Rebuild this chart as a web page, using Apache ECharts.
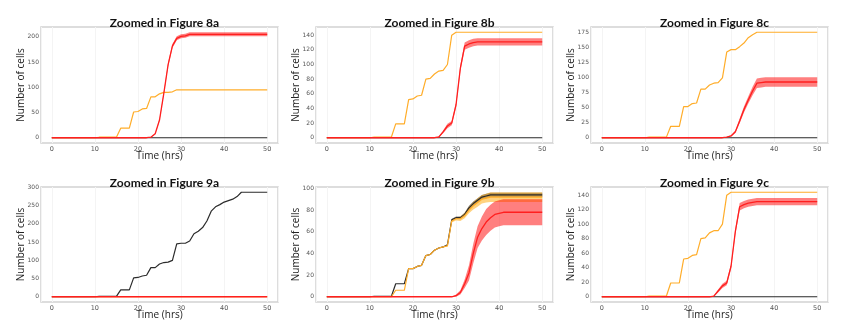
<!DOCTYPE html>
<html>
<head>
<meta charset="utf-8">
<script src="https://cdn.jsdelivr.net/npm/echarts@6/dist/echarts.min.js"></script>
<style>
html, body { margin: 0; padding: 0; background: #fff; }
#chart { width: 841px; height: 322px; }
</style>
</head>
<body>
<div id="chart"></div>
<script>
// time axis, hourly
const hours = [0,1,2,3,4,5,6,7,8,9,10,11,12,13,14,15,16,17,18,19,20,21,22,23,24,25,26,27,28,29,30,
  31,32,33,34,35,36,37,38,39,40,41,42,43,44,45,46,47,48,49,50];
const xTicks = [0, 10, 20, 30, 40, 50];
const titles = ["Zoomed in Figure 8a", "Zoomed in Figure 8b", "Zoomed in Figure 8c",
  "Zoomed in Figure 9a", "Zoomed in Figure 9b", "Zoomed in Figure 9c"];

const yTicks8a = [0, 50, 100, 150, 200];
const yTicks8b = [0, 20, 40, 60, 80, 100, 120, 140];
const yTicks8c = [0, 25, 50, 75, 100, 125, 150, 175];
const yTicks9a = [0, 50, 100, 150, 200, 250, 300];
const yTicks9b = [0, 20, 40, 60, 80, 100];
const yTicks9c = [0, 20, 40, 60, 80, 100, 120, 140];

const zeroLine = [0,0,0,0,0,0,0,0,0,0, 0,0,0,0,0,0,0,0,0,0, 0,0,0,0,0,0,0,0,0,0,
  0,0,0,0,0,0,0,0,0,0, 0,0,0,0,0,0,0,0,0,0, 0];

// Figure 8a
const orange8a = [0,0,0,0,0,0,0,0,0,0, 0,1,1,1,1,1,19,19,19,51, 52,57,58,81,81,87,90,90,91,95,
  95,95,95,95,95,95,95,95,95,95, 95,95,95,95,95,95,95,95,95,95, 95];
const red8a = [0,0,0,0,0,0,0,0,0,0, 0,0,0,0,0,0,0,0,0,0, 0,0,0,1,8,35,88,145,182,197,
  201,202,205,205,205,205,205,205,205,205, 205,205,205,205,205,205,205,205,205,205, 205];
const red8aSd = [0,0,0,0,0,0,0,0,0,0, 0,0,0,0,0,0,0,0,0,0, 0,0,0,0.5,1,2,3,4,4,4,
  4,4,4,4,4,4,4,4,4,4, 4,4,4,4,4,4,4,4,4,4, 4];

// Figure 8b
const orange8b = [0,0,0,0,0,0,0,0,0,0, 0,1,1,1,1,1,19,19,19,52, 53,57,58,80,81,87,91,92,100,140,
  144,144,144,144,144,144,144,144,144,144, 144,144,144,144,144,144,144,144,144,144, 144];
const red8b = [0,0,0,0,0,0,0,0,0,0, 0,0,0,0,0,0,0,0,0,0, 0,0,0,0,0,0,1,8,16,20,
  45,95,125,128,130,131,131,131,131,131, 131,131,131,131,131,131,131,131,131,131, 131];
const red8bSd = [0,0,0,0,0,0,0,0,0,0, 0,0,0,0,0,0,0,0,0,0, 0,0,0,0,0,0,0.5,2,3,3,
  3,4,5,5,5,5,5,5,5,5, 5,5,5,5,5,5,5,5,5,5, 5];

// Figure 8c
const orange8c = [0,0,0,0,0,0,0,0,0,0, 0,1,1,1,1,1,19,19,19,52, 52,57,58,81,81,88,91,92,100,143,
  147,147,152,158,167,172,176,176,176,176, 176,176,176,176,176,176,176,176,176,176, 176];
const red8c = [0,0,0,0,0,0,0,0,0,0, 0,0,0,0,0,0,0,0,0,0, 0,0,0,0,0,0,0,0,0,1,
  3,10,28,47,63,78,91,92,93,93, 93,93,93,93,93,93,93,93,93,93, 93];
const red8cSd = [0,0,0,0,0,0,0,0,0,0, 0,0,0,0,0,0,0,0,0,0, 0,0,0,0,0,0,0,0,0,0.5,
  1,2,4,5,6,7,8,8,8,8, 8,8,8,8,8,8,8,8,8,8, 8];

// Figure 9a
const black9a = [0,0,0,0,0,0,0,0,0,0, 0,1,1,1,1,1,19,19,19,52, 53,57,59,80,80,90,94,95,100,145,
  147,147,153,173,180,190,208,235,247,253, 260,264,268,275,287,287,287,287,287,287, 287];

// Figure 9b
const black9b = [0,0,0,0,0,0,0,0,0,0, 0,0.5,0.5,0.5,0.5,0.5,12,12,12,26, 26,28,29,38,39,43,45,46,48,71,
  73,73,76,82,86,89,92,93,94,94, 94,94,94,94,94,94,94,94,94,94, 94];
const black9bSd = [0,0,0,0,0,0,0,0,0,0, 0,0,0,0,0,0,0,0,0,0, 0,0,0,0,0,0,0,0,0,1,
  1,1,1.5,2,2,2,2,2,2,2, 2,2,2,2,2,2,2,2,2,2, 2];
const orange9b = [0,0,0,0,0,0,0,0,0,0, 0,0,0,0,0,0,6,6,6,26, 26,28,29,38,39,43,45,46,47,70,
  72,72,75,80,84,87,90,91,92,92, 92,92,92,92,92,92,92,92,92,92, 92];
const orange9bSd = [0,0,0,0,0,0,0,0,0,0, 0,0,0,0,0,0,0,0,0,0, 0,0,0,0.5,0.5,0.5,0.5,0.5,0.5,1.5,
  1.5,2,2.5,3,3.5,4,4,4,4.5,4.5, 4.5,4.5,4.5,4.5,4.5,4.5,4.5,4.5,4.5,4.5, 4.5];
const red9b = [0,0,0,0,0,0,0,0,0,0, 0,0,0,0,0,0,0,0,0,0, 0,0,0,0,0,0,0,0,0,0,
  1,4,12,22,40,55,63,69,73,76, 77,78,78,78,78,78,78,78,78,78, 78];
const red9bSd = [0,0,0,0,0,0,0,0,0,0, 0,0,0,0,0,0,0,0,0,0, 0,0,0,0,0,0,0,0,0,0,
  1,2,4,7,9,10,11,12,12,12, 12,12,12,12,12,12,12,12,12,12, 12];

// Figure 9c
const orange9c = [0,0,0,0,0,0,0,0,0,0, 0,1,1,1,1,1,19,19,19,52, 53,57,58,80,81,88,91,91,100,140,
  144,144,144,144,144,144,144,144,144,144, 144,144,144,144,144,144,144,144,144,144, 144];
const red9c = [0,0,0,0,0,0,0,0,0,0, 0,0,0,0,0,0,0,0,0,0, 0,0,0,0,0,0,1,8,15,19,
  42,90,124,127,129,130,131,131,131,131, 131,131,131,131,131,131,131,131,131,131, 131];
const red9cSd = [0,0,0,0,0,0,0,0,0,0, 0,0,0,0,0,0,0,0,0,0, 0,0,0,0,0,0,0.5,2,3,3,
  3,4,5,5,5,5,5,5,5,5, 5,5,5,5,5,5,5,5,5,5, 5];

const panels = [
  { yTicks: yTicks8a, black: zeroLine, orange: orange8a, red: red8a, redSd: red8aSd },
  { yTicks: yTicks8b, black: zeroLine, orange: orange8b, red: red8b, redSd: red8bSd },
  { yTicks: yTicks8c, black: zeroLine, orange: orange8c, red: red8c, redSd: red8cSd },
  { yTicks: yTicks9a, black: black9a, orange: zeroLine, red: zeroLine },
  { yTicks: yTicks9b, black: black9b, blackSd: black9bSd, orange: orange9b, orangeSd: orange9bSd, red: red9b, redSd: red9bSd },
  { yTicks: yTicks9c, black: zeroLine, orange: orange9c, red: red9c, redSd: red9cSd }
];

const colLeft = [41, 316, 591];
const rowTop = [27, 187];
const rowH = [116, 115];
const plotW = 237;

const lineColor = { black: "#2b2b2b", orange: "#ffad2a", red: "#ff1f1f" };
const bandColor = { black: "rgba(0,0,0,0.45)", orange: "rgba(255,165,0,0.5)", red: "rgba(255,0,0,0.5)" };

const grids = [], xAxes = [], yAxes = [], series = [], titleList = [];

// shaded spread band drawn as one polygon through the axis scales
function bandSeries(gi, vals, sd, color) {
  return {
    type: "custom", xAxisIndex: gi, yAxisIndex: gi, silent: true,
    data: [[hours[0], vals[0]]],
    renderItem: function (params, api) {
      const pts = [];
      for (let i = 0; i < hours.length; i++) pts.push(api.coord([hours[i], vals[i] + sd[i]]));
      for (let i = hours.length - 1; i >= 0; i--) pts.push(api.coord([hours[i], vals[i] - sd[i]]));
      return { type: "polygon", shape: { points: pts }, style: { fill: color } };
    }
  };
}

panels.forEach(function (p, gi) {
  const col = gi % 3, row = Math.floor(gi / 3);
  grids.push({ left: colLeft[col], top: rowTop[row], width: plotW, height: rowH[row],
    show: true, borderColor: "#d2d2d2", borderWidth: 1.5, backgroundColor: "#fff" });

  titleList.push({
    text: titles[gi], left: colLeft[col] + plotW / 2, top: rowTop[row] - 15, textAlign: "center",
    textStyle: { fontFamily: "Lato", fontWeight: "bold", fontSize: 12, color: "#111" }
  });

  // y range like matplotlib auto margins
  let lo = 0, hi = 0;
  ["black", "orange", "red"].forEach(function (k) {
    const sd = p[k + "Sd"];
    p[k].forEach(function (v, i) {
      const s = sd ? sd[i] : 0;
      lo = Math.min(lo, v - s); hi = Math.max(hi, v + s);
    });
  });
  const pad = (hi - lo) * 0.05;

  xAxes.push({
    type: "value", gridIndex: gi, min: -2.5, max: 52.5,
    axisLine: { show: false }, axisTick: { show: false },
    axisLabel: { customValues: xTicks, fontSize: 6.5, color: "#555", margin: 3, fontFamily: "DejaVu Sans" },
    splitLine: { show: true, lineStyle: { color: "#f4f4f4", width: 1 } },
    name: "Time (hrs)", nameLocation: "middle", nameGap: 8, nameMoveOverlap: false,
    nameTextStyle: { fontFamily: "Open Sans", fontSize: 10, color: "#222" }
  });
  yAxes.push({
    type: "value", gridIndex: gi, min: lo - pad, max: hi + pad,
    axisLine: { show: false }, axisTick: { show: false },
    axisLabel: { customValues: p.yTicks, fontSize: 6, color: "#555", margin: 2, fontFamily: "DejaVu Sans" },
    splitLine: { show: false },
    name: "Number of cells", nameLocation: "middle", nameGap: 15, nameMoveOverlap: false,
    nameTextStyle: { fontFamily: "Open Sans", fontSize: 10, color: "#222" }
  });

  ["black", "orange", "red"].forEach(function (k) {
    const vals = p[k], sd = p[k + "Sd"];
    if (sd) series.push(bandSeries(gi, vals, sd, bandColor[k]));
    series.push({
      type: "line", xAxisIndex: gi, yAxisIndex: gi, symbol: "none",
      lineStyle: { color: lineColor[k], width: k === "red" ? 1.3 : 1.2 },
      data: hours.map(function (h, i) { return [h, vals[i]]; })
    });
  });
});

const chart = echarts.init(document.getElementById("chart"));
chart.setOption({
  animation: false,
  backgroundColor: "#fff",
  title: titleList,
  grid: grids,
  xAxis: xAxes,
  yAxis: yAxes,
  series: series
});
</script>
</body>
</html>
